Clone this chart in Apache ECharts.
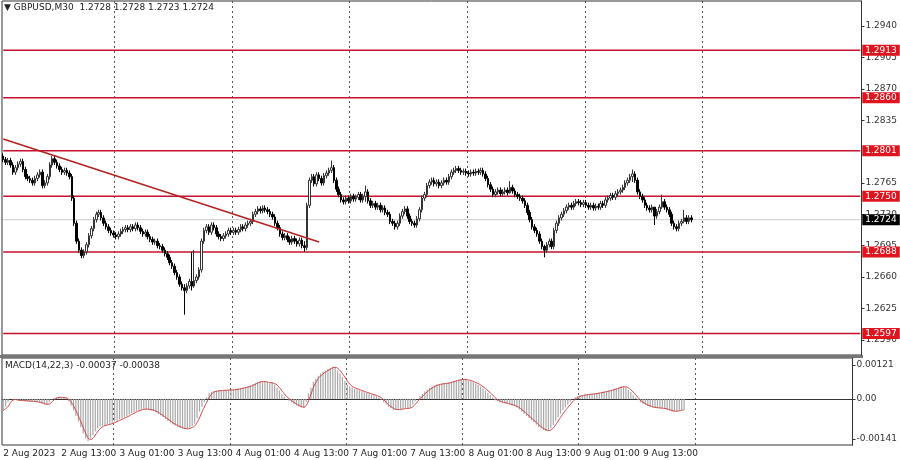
<!DOCTYPE html>
<html>
<head>
<meta charset="utf-8">
<script src="https://cdn.jsdelivr.net/npm/echarts@6/dist/echarts.min.js"></script>
<style>
	html, body { margin: 0; padding: 0; background: #fff; }
	#chart { width: 900px; height: 460px; }
</style>
</head>
<body>
<div id="chart"></div>
<script>
// closes of each M30 bar, 2 Aug 01:00 .. 9 Aug 16:30
let closes = [
	1.2791, 1.2788, 1.2790, 1.2785, 1.2777, 1.2782, 1.2786, 1.2789, 1.2780, 1.2772,
	1.2770, 1.2768, 1.2765, 1.2770, 1.2774, 1.2777, 1.2762, 1.2765, 1.2772, 1.2785,
	1.2792, 1.2788, 1.2784, 1.2780, 1.2777, 1.2779, 1.2776, 1.2772, 1.2748, 1.2720,
	1.2700, 1.2690, 1.2684, 1.2688, 1.2696, 1.2706, 1.2714, 1.2724, 1.2730, 1.2732,
	1.2726, 1.2720, 1.2716, 1.2712, 1.2709, 1.2707, 1.2705, 1.2708, 1.2711, 1.2713,
	1.2715, 1.2713, 1.2716, 1.2714, 1.2718, 1.2715, 1.2711, 1.2708, 1.2710, 1.2705,
	1.2702, 1.2699, 1.2700, 1.2695, 1.2694, 1.2690, 1.2686, 1.2682, 1.2676, 1.2672,
	1.2665, 1.2660, 1.2652, 1.2648, 1.2645, 1.2650, 1.2655, 1.2650, 1.2656, 1.2660,
	1.2668, 1.2700, 1.2712, 1.2716, 1.2710, 1.2718, 1.2715, 1.2708, 1.2705, 1.2703,
	1.2706, 1.2708, 1.2712, 1.2710, 1.2712, 1.2710, 1.2713, 1.2716, 1.2714, 1.2718,
	1.2720, 1.2722, 1.2730, 1.2733, 1.2736, 1.2734, 1.2737, 1.2735, 1.2733, 1.2730,
	1.2727, 1.2720, 1.2715, 1.2708, 1.2704, 1.2706, 1.2702, 1.2699, 1.2703, 1.2700,
	1.2697, 1.2701, 1.2695, 1.2693, 1.2740, 1.2768, 1.2772, 1.2764, 1.2774, 1.2770,
	1.2765, 1.2773, 1.2776, 1.2779, 1.2782, 1.2768, 1.2758, 1.2752, 1.2746, 1.2744,
	1.2748, 1.2745, 1.2750, 1.2747, 1.2749, 1.2752, 1.2746, 1.2750, 1.2755, 1.2745,
	1.2740, 1.2742, 1.2738, 1.2740, 1.2735, 1.2737, 1.2732, 1.2730, 1.2722, 1.2720,
	1.2716, 1.2720, 1.2728, 1.2733, 1.2736, 1.2728, 1.2722, 1.2720, 1.2718, 1.2725,
	1.2735, 1.2748, 1.2752, 1.2762, 1.2766, 1.2768, 1.2764, 1.2766, 1.2762, 1.2765,
	1.2768, 1.2766, 1.2772, 1.2777, 1.2779, 1.2781, 1.2779, 1.2777, 1.2778, 1.2776,
	1.2775, 1.2777, 1.2776, 1.2778, 1.2777, 1.2779, 1.2775, 1.2770, 1.2763, 1.2758,
	1.2752, 1.2755, 1.2757, 1.2753, 1.2755, 1.2757, 1.2754, 1.2760, 1.2756, 1.2752,
	1.2750, 1.2748, 1.2745, 1.2740, 1.2732, 1.2724, 1.2716, 1.2712, 1.2708, 1.2700,
	1.2694, 1.2690, 1.2696, 1.2700, 1.2694, 1.2712, 1.2720, 1.2726, 1.2730, 1.2734,
	1.2738, 1.2740, 1.2738, 1.2742, 1.2744, 1.2743, 1.2741, 1.2743, 1.2740, 1.2738,
	1.2740, 1.2737, 1.2739, 1.2738, 1.2742, 1.2740, 1.2746, 1.2748, 1.2751, 1.2749,
	1.2753, 1.2755, 1.2757, 1.2760, 1.2765, 1.2768, 1.2772, 1.2775, 1.2768, 1.2755,
	1.2750, 1.2746, 1.2740, 1.2737, 1.2735, 1.2738, 1.2728, 1.2733, 1.2738, 1.2744,
	1.2738, 1.2735, 1.2730, 1.2720, 1.2716, 1.2714, 1.2720, 1.2722, 1.2726, 1.2722,
	1.2726, 1.2724
]
let firstOpen = 1.2795
// bars with long wicks: index -> [high, low]
let wickBars = {
	74: [1.2652, 1.2618], 77: [1.2688, 1.2645], 78: [1.2690, 1.2648], 123: [1.2700, 1.2688],
	134: [1.2790, 1.2776], 148: [1.2762, 1.2744], 207: [1.2767, 1.2753], 221: [1.2696, 1.2682],
	257: [1.2780, 1.2766], 266: [1.2738, 1.2718], 269: [1.2752, 1.2736], 278: [1.2735, 1.2720]
}
// MACD histogram, in 1e-5
let macdHist = [
	-41, -28, -12, 0, -2, -4, -5, -6, -6, -7,
	-8, -8, -9, -10, -11, -13, -16, -20, -20, -12,
	-2, 4, 6, 6, 5, 4, 2, -8, -24, -40,
	-60, -80, -100, -122, -140, -150, -140, -128, -115, -105,
	-97, -94, -92, -90, -88, -84, -80, -76, -72, -68,
	-65, -60, -55, -50, -46, -42, -39, -37, -35, -36,
	-38, -40, -42, -47, -53, -59, -65, -71, -78, -84,
	-90, -94, -98, -102, -105, -106, -105, -102, -96, -88,
	-68, -45, -28, -12, 5, 22, 25, 27, 29, 30,
	30, 31, 31, 32, 32, 33, 34, 36, 38, 40,
	42, 44, 48, 52, 56, 60, 63, 62, 60, 58,
	55, 58, 50, 40, 30, 17, 8, 0, -6, -12,
	-18, -23, -27, -30, -30, -10, 20, 40, 61, 72,
	82, 90, 96, 100, 106, 110, 114, 112, 100, 90,
	78, 64, 50, 45, 40, 36, 33, 30, 27, 24,
	21, 18, 15, 13, 10, 5, -2, -12, -20, -28,
	-33, -38, -38, -37, -36, -34, -33, -33, -30, -20,
	-8, 0, 10, 18, 26, 33, 39, 44, 48, 51,
	53, 54, 55, 56, 58, 61, 64, 66, 68, 69,
	69, 68, 65, 62, 59, 55, 50, 44, 37, 30,
	22, 14, 5, -5, -8, -11, -13, -15, -17, -20,
	-23, -25, -30, -37, -45, -52, -60, -68, -75, -83,
	-91, -99, -105, -110, -113, -112, -104, -92, -78, -65,
	-52, -40, -30, -20, -10, 0, 6, 9, 12, 14,
	15, 16, 17, 18, 19, 21, 22, 24, 26, 28,
	30, 32, 35, 38, 41, 44, 44, 40, 33, 25,
	15, 5, -5, -12, -17, -21, -25, -28, -30, -31,
	-32, -33, -33, -35, -38, -41, -44, -44, -42, -40,
	-38, -37
]
let levels = [1.2913, 1.2860, 1.2801, 1.2750, 1.2688, 1.2597]
let lastPrice = 1.2724
let priceTicks = [1.2940, 1.2905, 1.2870, 1.2835, 1.2765, 1.2730, 1.2695, 1.2660, 1.2625, 1.2590]
let macdTicks = [0.00121, 0, -0.00141]
let trendLine = [[0, 1.2814], [129, 1.2699]]
let slotCount = 351
let lastLabelSlot = 270

// time labels, weekend skipped
let months = ["Jan", "Feb", "Mar", "Apr", "May", "Jun", "Jul", "Aug", "Sep", "Oct", "Nov", "Dec"]
let categories = []
{
	let t = Date.UTC(2023, 7, 2, 1, 0)
	for (let i = 0; i < slotCount; i++) {
		let d = new Date(t)
		let hh = String(d.getUTCHours()).padStart(2, "0")
		let mm = String(d.getUTCMinutes()).padStart(2, "0")
		categories.push(i == 0 ? "2 Aug 2023" : d.getUTCDate() + " " + months[d.getUTCMonth()] + " " + hh + ":" + mm)
		t += 30 * 60000
		let n = new Date(t)
		if (n.getUTCDay() == 6) t += 2 * 86400000
	}
}
let dayStarts = []
categories.forEach(function (c, i) {
	if (/ 00:00$/.test(c) && i <= lastLabelSlot + 24) dayStarts.push(i)
})

let candles = closes.map(function (c, i) {
	let o = i == 0 ? firstOpen : closes[i - 1]
	let hl = wickBars[i] || [Math.max(o, c) + 0.0003, Math.min(o, c) - 0.0003]
	return [o, c, hl[1], hl[0]]
})
let hist = macdHist.map(function (v) { return v / 100000 })
let signal = hist.map(function (v, i) {
	let s = hist.slice(Math.max(0, i - 2), i + 1)
	return s.reduce(function (a, b) { return a + b }, 0) / s.length
})

let font = "DejaVu Sans"
let chart = echarts.init(document.getElementById("chart"))

function levelSeries(v, lineColor, boxColor, width) {
	return {
		type: "line", xAxisIndex: 0, yAxisIndex: 0, silent: true, showSymbol: false, z: 1,
		data: categories.map(function () { return v }),
		lineStyle: { color: lineColor, width: width },
		endLabel: { show: true, formatter: v.toFixed(4), backgroundColor: boxColor, color: "#fff", padding: [1, 3], fontSize: 9, fontFamily: font, distance: 2 }
	}
}

let series = [
	levelSeries(lastPrice, "#c8c8c8", "#000", 1)
]
levels.forEach(function (v) {
	series.push(levelSeries(v, "#c8102e", "#e0141e", 1.5))
})
series.push({
	type: "line", xAxisIndex: 0, yAxisIndex: 0, silent: true, showSymbol: false, connectNulls: true, z: 3,
	data: categories.map(function (c, i) {
		if (i == trendLine[0][0]) return trendLine[0][1]
		if (i == trendLine[1][0]) return trendLine[1][1]
		return null
	}),
	lineStyle: { color: "#b22222", width: 1.5 }
})
series.push({
	type: "candlestick", xAxisIndex: 0, yAxisIndex: 0, data: candles, barWidth: 2, z: 2,
	itemStyle: { color: "#ffffff", color0: "#000000", borderColor: "#333", borderColor0: "#000", borderWidth: 1 }
})
series.push({
	type: "bar", xAxisIndex: 1, yAxisIndex: 1, data: hist, barWidth: 1.2,
	itemStyle: { color: "#a8a8a8" }
})
series.push({
	type: "line", xAxisIndex: 1, yAxisIndex: 1, data: signal, smooth: true, showSymbol: false,
	lineStyle: { color: "#d04040", width: 1 }
})

let option = {
	animation: false,
	backgroundColor: "#fff",
	graphic: [
		{ type: "text", left: 4, top: 3, style: { text: "▼ GBPUSD,M30  1.2728 1.2728 1.2723 1.2724", fontSize: 9, fontFamily: font, fill: "#222" } },
		{ type: "text", left: 5, top: 361, style: { text: "MACD(14,22,3) -0.00037 -0.00038", fontSize: 9, fontFamily: font, fill: "#222" } },
		{ type: "rect", shape: { x: 0, y: 355, width: 863, height: 3 }, style: { fill: "#777" } }
	],
	grid: [
		{ left: 2, right: 38, top: 1, height: 354, show: true, borderColor: "#333", borderWidth: 1 },
		{ left: 2, right: 38, top: 358, height: 87, show: true, borderColor: "#333", borderWidth: 1 }
	],
	xAxis: [
		{
			type: "category", gridIndex: 0, data: categories, boundaryGap: true,
			axisLine: { show: false }, axisTick: { show: false }, axisLabel: { show: false },
			splitLine: { show: true, interval: function (i) { return dayStarts.indexOf(i) >= 0 }, lineStyle: { color: "#555", type: [2, 3] } }
		},
		{
			type: "category", gridIndex: 1, data: categories, boundaryGap: true,
			axisLine: { lineStyle: { color: "#333" } }, axisTick: { show: false },
			axisLabel: { interval: function (i) { return i % 24 == 0 && i <= lastLabelSlot }, align: "left", fontSize: 9, fontFamily: font, color: "#222", margin: 4 },
			splitLine: { show: true, interval: function (i) { return dayStarts.indexOf(i) >= 0 }, lineStyle: { color: "#555", type: [2, 3] } }
		}
	],
	yAxis: [
		{
			type: "value", gridIndex: 0, position: "right", min: 1.2573, max: 1.2968,
			axisLine: { show: true, lineStyle: { color: "#333" } },
			axisTick: { show: true, customValues: priceTicks, length: 3 },
			axisLabel: { customValues: priceTicks, formatter: function (v) { return v.toFixed(4) }, fontSize: 9, fontFamily: font, color: "#333", margin: 4 },
			splitLine: { show: false }
		},
		{
			type: "value", gridIndex: 1, position: "right", min: -0.00163, max: 0.00145,
			axisLine: { show: true, lineStyle: { color: "#333" } },
			axisTick: { show: true, customValues: macdTicks, length: 3 },
			axisLabel: { customValues: macdTicks, formatter: function (v) { return v == 0 ? "0.00" : v.toFixed(5) }, fontSize: 9, fontFamily: font, color: "#333", margin: 4 },
			splitLine: { show: false }
		}
	],
	series: series
}
chart.setOption(option)
</script>
</body>
</html>
